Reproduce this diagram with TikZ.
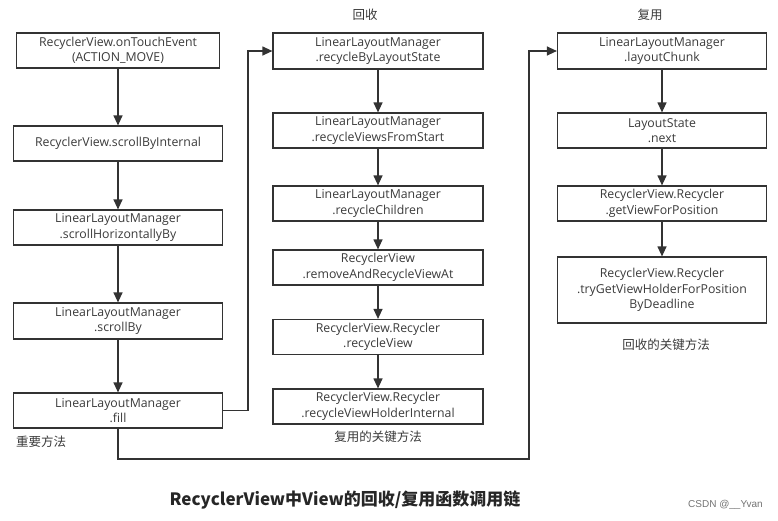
\documentclass[tikz,border=0pt]{standalone}
\usepackage{fontspec}
\setmainfont{Open Sans}
\newfontfamily\cjk{Noto Sans CJK SC}
\newfontfamily\arialf{Liberation Sans}
\usetikzlibrary{arrows.meta}
\definecolor{ln}{HTML}{333333}
\definecolor{tx}{HTML}{3a3a3a}
\tikzset{
  box/.style={draw=ln, line width=1.2pt, rectangle, align=center, text=tx,
    font=\fontsize{12.3}{15.5}\selectfont, inner sep=0pt, minimum height=35pt},
  w1/.style={minimum width=209pt},
  arr/.style={draw=ln, line width=1.2pt, -{Triangle[length=10pt,width=9pt]}},
  lbl/.style={text=tx, font=\cjk\fontsize{12.5}{14}\selectfont, inner sep=0pt}
}
\begin{document}
\begin{tikzpicture}[x=1pt,y=-1pt]
\useasboundingbox (0,0) rectangle (778,520);
% column 1
\node[box, minimum width=203pt] (c1a) at (118,50.5) {RecyclerView.onTouchEvent\\(ACTION\_MOVE)};
\node[box, w1] (c1b) at (118,143.5) {RecyclerView.scrollByInternal};
\node[box, w1] (c1c) at (118,227.5) {LinearLayoutManager\\.scrollHorizontallyBy};
\node[box, w1, minimum height=36pt] (c1d) at (118,321) {LinearLayoutManager\\.scrollBy};
\node[box, w1] (c1e) at (118,410.5) {LinearLayoutManager\\.fill};
\node[lbl, anchor=west] (l1) at (16,442) {重要方法};
% column 2
\node[box, minimum width=210pt, minimum height=36pt] (c2a) at (378,51) {LinearLayoutManager\\.recycleByLayoutState};
\node[box, minimum width=210pt] (c2b) at (378,130.5) {LinearLayoutManager\\.recycleViewsFromStart};
\node[box, minimum width=210pt] (c2c) at (378,203.5) {LinearLayoutManager\\.recycleChildren};
\node[box, minimum width=210pt] (c2d) at (378,267.5) {RecyclerView\\.removeAndRecycleViewAt};
\node[box, minimum width=210pt] (c2e) at (378,337) {RecyclerView.Recycler\\.recycleView};
\node[box, minimum width=210pt] (c2f) at (378,406.5) {RecyclerView.Recycler\\.recycleViewHolderInternal};
\node[lbl] (l2) at (378,437) {复用的关键方法};
\node[lbl] (h2) at (365,15) {回收};
% column 3
\node[box, w1, minimum height=36pt] (c3a) at (662,51) {LinearLayoutManager\\.layoutChunk};
\node[box, w1] (c3b) at (662,130.5) {LayoutState\\.next};
\node[box, w1] (c3c) at (662,203.5) {RecyclerView.Recycler\\.getViewForPosition};
\node[box, w1, minimum height=66pt] (c3d) at (662,290) {RecyclerView.Recycler\\.tryGetViewHolderForPosition\\ByDeadline};
\node[lbl] (l3) at (666,345) {回收的关键方法};
\node[lbl] (h3) at (650,15) {复用};
% arrows
\draw[arr] (c1a.south) -- (c1b.north);
\draw[arr] (c1b.south) -- (c1c.north);
\draw[arr] (c1c.south) -- (c1d.north);
\draw[arr] (c1d.south) -- (c1e.north);
\draw[arr] (c2a.south) -- (c2b.north);
\draw[arr] (c2b.south) -- (c2c.north);
\draw[arr] (c2c.south) -- (c2d.north);
\draw[arr] (c2d.south) -- (c2e.north);
\draw[arr] (c2e.south) -- (c2f.north);
\draw[arr] (c3a.south) -- (c3b.north);
\draw[arr] (c3b.south) -- (c3c.north);
\draw[arr] (c3c.south) -- (c3d.north);
\coordinate (k1) at (248,410.5);
\coordinate (k2) at (529,459);
\draw[arr] (c1e.east) -- (k1) |- (c2a.west);
\draw[arr] (c1e.south) |- (k2) |- (c3a.west);
% title
\node[inner sep=0pt, font=\cjk\bfseries\fontsize{17}{20}\selectfont, text=black!85] (title) at (345,500) {RecyclerView中View的回收/复用函数调用链};
\node[inner sep=0pt, anchor=east, font=\arialf\fontsize{10}{12}\selectfont, text=black!55] (csdn) at (763,505) {CSDN @\_\_Yvan};
\end{tikzpicture}
\end{document}
